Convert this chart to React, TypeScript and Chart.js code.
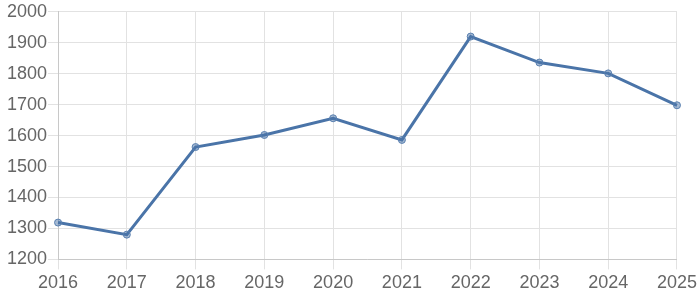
import React, { useEffect, useRef } from "react";
import { Chart, registerables } from "chart.js";

Chart.register(...registerables);

const years = ["2016", "2017", "2018", "2019", "2020", "2021", "2022", "2023", "2024", "2025"];
const values = [1319, 1280, 1563, 1602, 1656, 1586, 1920, 1836, 1801, 1698];

export default function App() {
  const ref = useRef<HTMLCanvasElement>(null);
  useEffect(() => {
    if (!ref.current) return;
    const font = { family: "'Liberation Sans', Arial, sans-serif", size: 18 };
    const chart = new Chart(ref.current, {
      type: "line",
      data: {
        labels: years,
        datasets: [
          {
            data: values,
            borderColor: "#4a74a8",
            backgroundColor: "rgba(74,116,168,0.55)",
            borderWidth: 3,
            pointRadius: 3.5,
            pointBorderWidth: 1,
            pointBorderColor: "#5a80b0",
            pointBackgroundColor: "rgba(74,116,168,0.5)",
            tension: 0,
          },
        ],
      },
      options: {
        animation: false,
        responsive: true,
        maintainAspectRatio: false,
        layout: { padding: { top: 0, right: 6, left: 6, bottom: 3 } },
        plugins: { legend: { display: false }, tooltip: { enabled: false } },
        scales: {
          x: {
            grid: { color: "#e2e2e2", tickLength: 10 },
            border: { color: "#c8c8c8" },
            ticks: { color: "#666", font, maxRotation: 0, padding: 3 },
          },
          y: {
            min: 1200,
            max: 2000,
            grid: { color: "#e2e2e2", tickLength: 10 },
            border: { color: "#c8c8c8" },
            ticks: { stepSize: 100, color: "#666", font, padding: 1, callback: (v: any) => String(v) },
          },
        },
      },
    });
    return () => chart.destroy();
  }, []);
  return (
    <div style={{ position: "fixed", left: 0, top: 0, width: 700, height: 300 }}>
      <canvas ref={ref} />
    </div>
  );
}
